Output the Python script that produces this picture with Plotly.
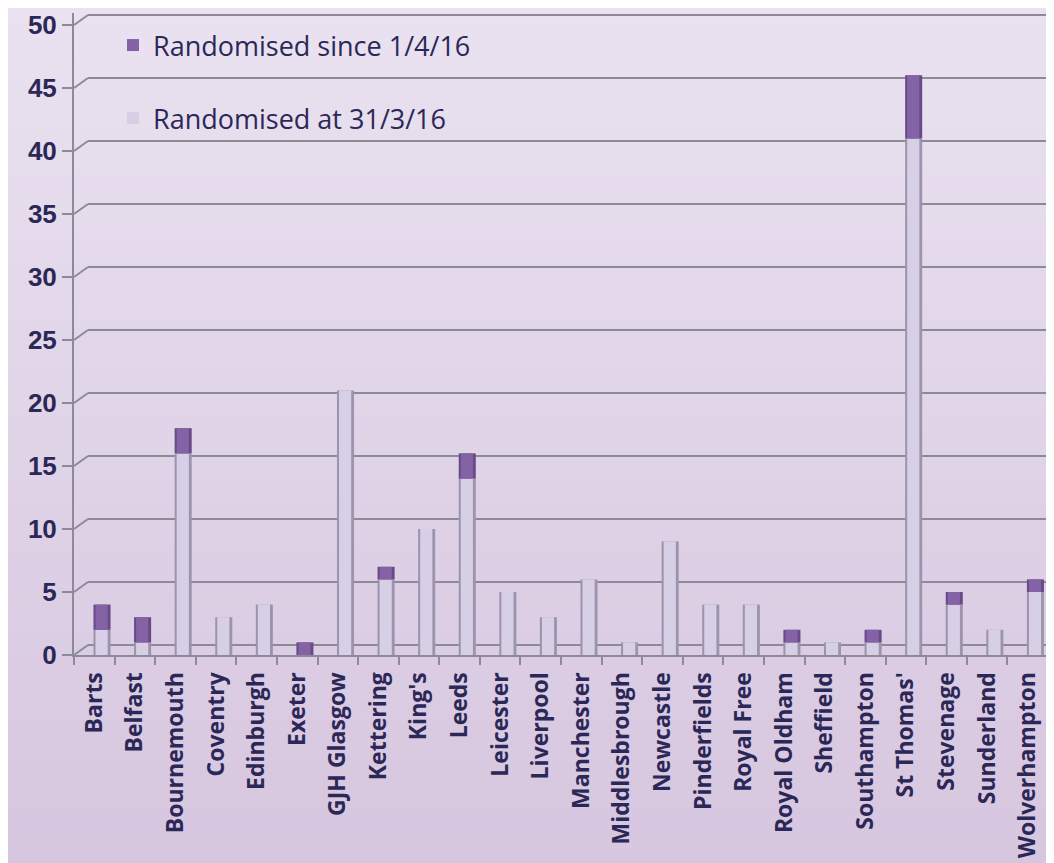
import plotly.graph_objects as go

sites = ["Barts", "Belfast", "Bournemouth", "Coventry", "Edinburgh", "Exeter",
         "GJH Glasgow", "Kettering", "King's", "Leeds", "Leicester", "Liverpool",
         "Manchester", "Middlesbrough", "Newcastle", "Pinderfields", "Royal Free",
         "Royal Oldham", "Sheffield", "Southampton", "St Thomas'", "Stevenage",
         "Sunderland", "Wolverhampton"]
at_31_3_16 = [2, 1, 16, 3, 4, 0, 21, 6, 10, 14, 5, 3, 6, 1, 9, 4, 4, 1, 1, 1, 41, 4, 2, 5]
since_1_4_16 = [2, 2, 2, 0, 0, 1, 0, 1, 0, 2, 0, 0, 0, 0, 0, 0, 0, 1, 0, 1, 5, 1, 0, 1]
y_ticks = [0, 5, 10, 15, 20, 25, 30, 35, 40, 45, 50]

# page body adds ~8px margin; figure sized to fit the 1054x863 window
W, H = 1046, 855
ML, MR, MT, MB = 66, 6, 5, 208
PW, PH = W - ML - MR, H - MT - MB
YMAX = 50.95
DX, DY = 14, 10  # 3D depth offset of back wall (px)
TXT = "#2b2858"
FONT = "Open Sans"
NUM_FONT = "Liberation Sans"

upper_base = at_31_3_16
fig = go.Figure()

# lower segment (outer = shaded edge, inner = highlight)
fig.add_trace(go.Bar(x=sites, y=at_31_3_16, base=[0] * len(sites), width=0.42, offset=-0.02,
                     marker=dict(color="#9c94ac", line=dict(width=0)),
                     name="Randomised at 31/3/16", legendrank=2, legendgroup="a",
                     showlegend=False, hoverinfo="skip"))
fig.add_trace(go.Bar(x=sites, y=at_31_3_16, base=[0] * len(sites), width=0.30, offset=0.03,
                     marker=dict(color="#d6cfe6", line=dict(width=0)),
                     name="Randomised at 31/3/16", legendrank=2, legendgroup="a",
                     showlegend=True))
# upper segment
fig.add_trace(go.Bar(x=sites, y=since_1_4_16, base=upper_base, width=0.42, offset=-0.02,
                     marker=dict(color="#674a86", line=dict(width=0)),
                     name="Randomised since 1/4/16", legendrank=1, legendgroup="b",
                     showlegend=False, hoverinfo="skip"))
fig.add_trace(go.Bar(x=sites, y=since_1_4_16, base=upper_base, width=0.30, offset=0.03,
                     marker=dict(color="#8462a6", line=dict(width=0)),
                     name="Randomised since 1/4/16", legendrank=1, legendgroup="b",
                     showlegend=True))

shapes = []
# background gradient bands
top_c = (234, 226, 240)
bot_c = (214, 198, 223)
N = 40
y_lo = -(MB + 10) / PH
y_hi = 1 + (MT + 10) / PH
for i in range(N):
    f = i / (N - 1)
    c = tuple(round(bot_c[k] + (top_c[k] - bot_c[k]) * f) for k in range(3))
    shapes.append(dict(type="rect", xref="paper", yref="paper", layer="below",
                       x0=-(ML + 10) / PW, x1=1 + (MR + 10) / PW,
                       y0=y_lo + (y_hi - y_lo) * i / N, y1=y_lo + (y_hi - y_lo) * (i + 1) / N + 0.002,
                       line=dict(width=0), fillcolor="rgb(%d,%d,%d)" % c))
# back-wall gridlines and diagonal connectors
gcol = "#8d8a98"
for v in y_ticks:
    shapes.append(dict(type="line", xref="paper", yref="y", layer="below",
                       ysizemode="pixel", yanchor=v, y0=DY, y1=DY,
                       x0=DX / PW, x1=1, line=dict(color=gcol, width=2)))
    shapes.append(dict(type="line", xref="paper", yref="y", layer="below",
                       ysizemode="pixel", yanchor=v, y0=0, y1=DY,
                       x0=0, x1=DX / PW, line=dict(color=gcol, width=2)))
fig.update_layout(shapes=shapes)

fig.update_layout(
    width=W, height=H,
    margin=dict(l=ML, r=MR, t=MT, b=MB, autoexpand=False),
    barmode="overlay",
    paper_bgcolor="#e0d4e8",
    plot_bgcolor="rgba(0,0,0,0)",
    font=dict(family=FONT, color=TXT),
    legend=dict(x=(105 - ML) / PW, y=(PH + MT - 13) / PH, xanchor="left", yanchor="top",
                traceorder="grouped", tracegroupgap=35,
                bgcolor="rgba(0,0,0,0)", font=dict(size=27, color=TXT, family=FONT)),
    xaxis=dict(type="category", range=[-0.5, len(sites) - 0.5], automargin=False,
               showline=True, linecolor=gcol, linewidth=2,
               ticks="outside", tickson="boundaries", ticklen=8, tickcolor=gcol, tickwidth=2,
               tickangle=-90, tickfont=dict(size=23, family=FONT, color=TXT, weight="bold"),
               ticklabeloverflow="allow",
               showgrid=False, zeroline=False, ticklabelstandoff=6),
    yaxis=dict(range=[0, YMAX], tickvals=y_ticks, showgrid=False, zeroline=False, automargin=False,
               showline=True, linecolor=gcol, linewidth=2,
               ticks="outside", ticklen=10, tickcolor=gcol, tickwidth=2,
               ticklabeloverflow="allow",
               tickfont=dict(size=26, family=NUM_FONT, color=TXT, weight="bold")),
)

fig.write_html("out.html")
